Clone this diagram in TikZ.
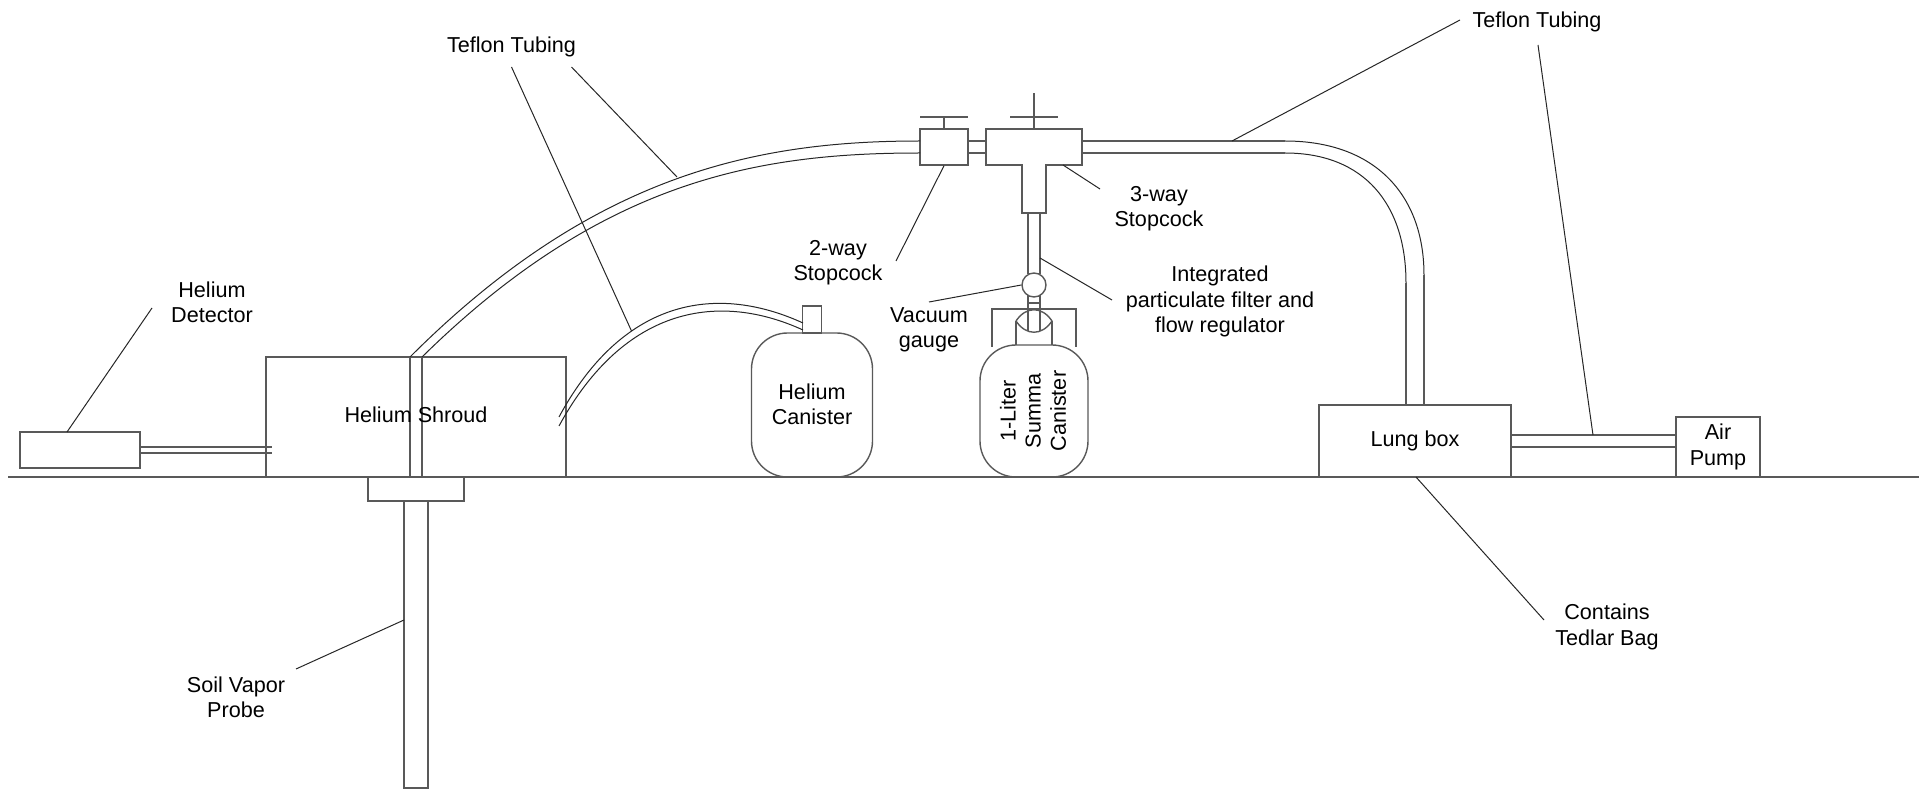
\documentclass[tikz,border=0pt]{standalone}
\usepackage{fontspec}
\setmainfont{Liberation Sans}
\usetikzlibrary{positioning}
\tikzset{
  partbox/.style={draw=black!65,line width=0.7pt,inner sep=0pt,align=center},
  canister/.style={partbox,rounded corners=18pt},
  pipe/.style={draw=black!65,line width=0.7pt},
  curvedpipe/.style={draw=black!85,line width=0.5pt},
  leader/.style={draw=black!85,line width=0.5pt},
  caption/.style={inner sep=0pt,align=center}
}
\begin{document}
\begin{tikzpicture}[x=0.5pt,y=-0.5pt,font=\fontsize{10.8}{12.6}\selectfont]
  \useasboundingbox (0,0) rectangle (1919,791);
  % ground
  \coordinate (groundL) at (8,477);
  \coordinate (groundR) at (1919,477);
  \draw[pipe] (groundL)--(groundR);
  % boxes
  \node[partbox,minimum width=60pt,minimum height=18pt] (detector) at (80,450) {};
  \node[partbox,minimum width=150pt,minimum height=60pt] (shroud) at (416,417) {};
  \node[partbox,minimum width=48pt,minimum height=12pt] (flange) at (416,489) {};
  \node[partbox,minimum width=12pt,minimum height=143.5pt] (probe) at (416,644.5) {};
  \node[canister,minimum width=60.5pt,minimum height=72pt] (hecan) at (812,405) {};
  \node[caption] (hecantext) at (812,404) {Helium\\Canister};
  \node[partbox,minimum width=9.5pt,minimum height=13.5pt] (hevalve) at (812,319.5) {};
  \node[partbox,minimum width=96pt,minimum height=36pt] (lung) at (1415,441) {Lung box};
  \node[partbox,minimum width=42pt,minimum height=30pt] (pump) at (1718,447) {Air\\Pump};
  \node[partbox,minimum width=24pt,minimum height=18pt] (twoway) at (944,147) {};
  % three way body
  \coordinate (tA) at (986,129);
  \coordinate (tB) at (1082,129);
  \coordinate (tC) at (1082,165);
  \coordinate (tD) at (1046,165);
  \coordinate (tE) at (1046,213);
  \coordinate (tF) at (1022,213);
  \coordinate (tG) at (1022,165);
  \coordinate (tH) at (986,165);
  \draw[pipe] (tA)--(tB)--(tC)--(tD)--(tE)--(tF)--(tG)--(tH)--cycle;
  % handles
  \coordinate (twoStem) at (944,117);
  \coordinate (twoBarL) at (920,117);
  \coordinate (twoBarR) at (968,117);
  \coordinate (threeTop) at (1034,93);
  \coordinate (threeBase) at (1034,129);
  \coordinate (threeBarL) at (1010,117);
  \coordinate (threeBarR) at (1058,117);
  \draw[pipe] (twoway.north)--(twoStem);
  \draw[pipe] (twoBarL)--(twoBarR);
  \draw[pipe] (threeBase)--(threeTop);
  \draw[pipe] (threeBarL)--(threeBarR);
  % summa canister
  \node[canister,minimum width=54pt,minimum height=66pt] (summa) at (1034,411) {};
  \node[caption,rotate=90] (summatext) at (1033,411) {1-Liter\\Summa\\Canister};
  \node[partbox,circle,minimum size=12pt] (gauge) at (1034,285) {};
  \coordinate (guardA) at (992,347);
  \coordinate (guardB) at (992,309);
  \coordinate (guardC) at (1076,309);
  \coordinate (guardD) at (1076,347);
  \draw[pipe] (guardA)--(guardB)--(guardC)--(guardD);
  \coordinate (lensL) at (1016,321);
  \coordinate (lensR) at (1052,321);
  \coordinate (lensTopA) at (1026,306);
  \coordinate (lensTopB) at (1042,306);
  \coordinate (lensLowA) at (1026,336);
  \coordinate (lensLowB) at (1042,336);
  \draw[pipe] (lensL) .. controls (lensTopA) and (lensTopB) .. (lensR);
  \draw[pipe] (lensL) .. controls (lensLowA) and (lensLowB) .. (lensR);
  \coordinate (neckL) at (1016,345);
  \coordinate (neckR) at (1052,345);
  \draw[pipe] (lensL)--(neckL);
  \draw[pipe] (lensR)--(neckR);
  % straight tubes
  \coordinate (detTubeA) at (140,447);
  \coordinate (detTubeB) at (140,453);
  \coordinate (shrTubeA) at (272,447);
  \coordinate (shrTubeB) at (272,453);
  \draw[pipe] (detTubeA)--(shrTubeA);
  \draw[pipe] (detTubeB)--(shrTubeB);
  \coordinate (stackA) at (410,357);
  \coordinate (stackB) at (422,357);
  \coordinate (stackC) at (410,477);
  \coordinate (stackD) at (422,477);
  \draw[pipe] (stackA)--(stackC);
  \draw[pipe] (stackB)--(stackD);
  \node[caption] (shroudtext) at (416,415) {Helium Shroud};
  \coordinate (linkA) at (968,141);
  \coordinate (linkB) at (968,153);
  \coordinate (linkC) at (986,141);
  \coordinate (linkD) at (986,153);
  \draw[pipe] (linkA)--(linkC);
  \draw[pipe] (linkB)--(linkD);
  \coordinate (dropA) at (1028,213);
  \coordinate (dropB) at (1040,213);
  \coordinate (dropC) at (1028,274);
  \coordinate (dropD) at (1040,274);
  \coordinate (dropE) at (1028,295);
  \coordinate (dropF) at (1040,295);
  \coordinate (dropG) at (1028,331);
  \coordinate (dropH) at (1040,331);
  \coordinate (dropI) at (1028,303);
  \coordinate (dropJ) at (1040,303);
  \draw[pipe] (dropA)--(dropC);
  \draw[pipe] (dropB)--(dropD);
  \draw[pipe] (dropE)--(dropG);
  \draw[pipe] (dropF)--(dropH);
  \draw[pipe] (dropI)--(dropJ);
  \coordinate (pumpTubeA) at (1511,435);
  \coordinate (pumpTubeB) at (1511,447);
  \coordinate (pumpTubeC) at (1676,435);
  \coordinate (pumpTubeD) at (1676,447);
  \draw[pipe] (pumpTubeA)--(pumpTubeC);
  \draw[pipe] (pumpTubeB)--(pumpTubeD);
  % curved tubes
  \coordinate (bigEndA) at (920,141);
  \coordinate (bigEndB) at (920,153);
  \draw[curvedpipe] (stackA) .. controls (595,172) and (760,141) .. (bigEndA);
  \draw[curvedpipe] (stackB) .. controls (604,178) and (762,153) .. (bigEndB);
  \coordinate (heStartA) at (559,417);
  \coordinate (heStartB) at (559,426);
  \coordinate (heEndA) at (803,323);
  \coordinate (heEndB) at (803,330);
  \draw[curvedpipe] (heStartA) .. controls (625,295) and (720,285) .. (heEndA);
  \draw[curvedpipe] (heStartB) .. controls (625,305) and (720,292) .. (heEndB);
  \coordinate (rightA) at (1082,141);
  \coordinate (rightB) at (1082,153);
  \coordinate (rightC) at (1285,141);
  \coordinate (rightD) at (1285,153);
  \coordinate (rightE) at (1424,275);
  \coordinate (rightF) at (1406,283);
  \coordinate (rightG) at (1424,405);
  \coordinate (rightH) at (1406,405);
  \draw[pipe] (rightA)--(rightC);
  \draw[pipe] (rightB)--(rightD);
  \draw[curvedpipe] (rightC) .. controls (1375,141) and (1424,195) .. (rightE);
  \draw[curvedpipe] (rightD) .. controls (1365,153) and (1406,205) .. (rightF);
  \draw[pipe] (rightE)--(rightG);
  \draw[pipe] (rightF)--(rightH);
  % labels
  \node[caption] (detlabel) at (212,302) {Helium\\Detector};
  \node[caption] (tefl) at (511.5,47) {Teflon Tubing};
  \node[caption] (tefr) at (1537,22) {Teflon Tubing};
  \node[caption] (twolabel) at (838,263) {2-way\\Stopcock};
  \node[caption] (threelabel) at (1159,209) {3-way\\Stopcock};
  \node[caption] (vaclabel) at (929,330) {Vacuum\\gauge};
  \node[caption] (filterlabel) at (1220,301.5) {Integrated\\particulate filter and\\flow regulator};
  \node[caption] (probelabel) at (236,697) {Soil Vapor\\Probe};
  \node[caption] (baglabel) at (1607,627) {Contains\\Tedlar Bag};
  % leaders
  \coordinate (detFree) at (152,308);
  \coordinate (detEnd) at (67,432);
  \draw[leader] (detFree)--(detEnd);
  \coordinate (teflA) at (511.5,67);
  \coordinate (teflB) at (631.5,331);
  \draw[leader] (teflA)--(teflB);
  \coordinate (teflC) at (571.5,67);
  \coordinate (teflD) at (677,177);
  \draw[leader] (teflC)--(teflD);
  \coordinate (tefrA) at (1460,20);
  \coordinate (tefrB) at (1232,141);
  \draw[leader] (tefrA)--(tefrB);
  \coordinate (tefrC) at (1538,45);
  \coordinate (tefrD) at (1593,435);
  \draw[leader] (tefrC)--(tefrD);
  \coordinate (twoFree) at (896,261);
  \draw[leader] (twoFree)--(twoway.south);
  \coordinate (threeFree) at (1100,189);
  \coordinate (threeEnd) at (1063,165);
  \draw[leader] (threeFree)--(threeEnd);
  \coordinate (vacFree) at (929,302);
  \draw[leader] (vacFree)--(gauge.west);
  \coordinate (filterFree) at (1112,300);
  \coordinate (filterEnd) at (1040,258);
  \draw[leader] (filterFree)--(filterEnd);
  \coordinate (probeFree) at (296,669);
  \coordinate (probeEnd) at (404,620);
  \draw[leader] (probeFree)--(probeEnd);
  \coordinate (bagFree) at (1544,620);
  \coordinate (bagEnd) at (1416,477);
  \draw[leader] (bagFree)--(bagEnd);
\end{tikzpicture}
\end{document}
